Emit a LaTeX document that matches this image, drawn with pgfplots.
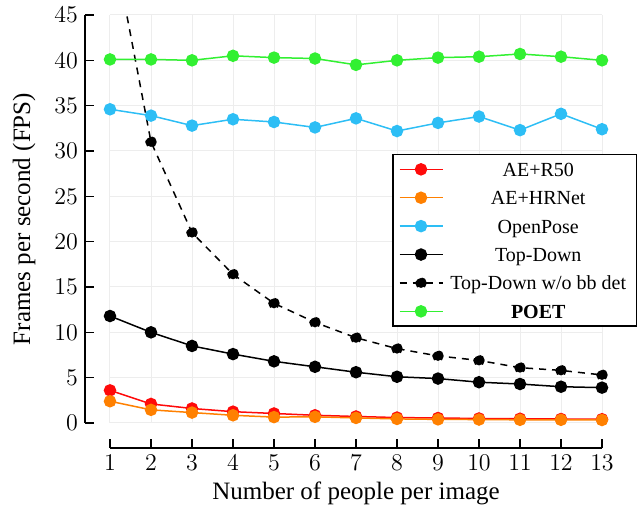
\documentclass[border=0pt]{standalone}
\usepackage{pgfplots}
\pgfplotsset{compat=1.18}
\usepackage{fontspec}
\setmainfont{Liberation Serif}
\definecolor{cR}{RGB}{255,10,10}
\definecolor{cO}{RGB}{255,128,0}
\definecolor{cB}{RGB}{45,190,245}
\definecolor{cG}{RGB}{50,240,50}
\newcommand{\lgE}[1]{\makebox[90pt][c]{\strut #1}}
\begin{document}
\begin{tikzpicture}
\path[use as bounding box] (-55pt,-44.5pt) rectangle (265.5pt,211.5pt);
\begin{axis}[
  at={(0,0)}, anchor=south west,
  scale only axis, width=246pt, height=204pt,
  xmin=1, xmax=13, ymin=0, ymax=45,
  xtick={1,...,13}, ytick={0,5,...,45},
  grid=major, grid style={draw=black!7, line width=0.5pt},
  axis x line*=bottom, axis y line*=left,
  axis x line shift=12.5pt, axis y line shift=12.5pt,
  x axis line style={line width=0.9pt},
  y axis line style={line width=0.9pt},
  xtick style={line width=0.7pt, black},
  ytick style={line width=0.7pt, black},
  major tick length=4.5pt, tick align=inside,
  tick label style={font=\fontsize{12.5}{14}\selectfont},
  label style={font=\fontsize{12.5}{14}\selectfont},
  xlabel={Number of people per image},
  ylabel={Frames per second (FPS)},
  xlabel style={at={(axis description cs:0.5,-0.1887)}, anchor=base},
  ylabel style={at={(axis description cs:-0.1626,0.5)}, anchor=base},
  legend style={at={(141pt,48pt)}, anchor=south west, draw=black, line width=0.75pt,
    font=\fontsize{10}{12}\selectfont, nodes={inner sep=1pt}, inner xsep=3pt, inner ysep=1.5pt,
    row sep=2.3pt, column sep=1.5pt, cells={anchor=center}},
  legend image code/.code={\draw[mark repeat=2,mark phase=2] plot coordinates {(0pt,0pt) (10.75pt,0pt) (21.5pt,0pt)};},
  every axis plot/.append style={line width=0.75pt, mark=*, mark size=2.75pt, mark options={solid}},
]
\addplot[cR, mark options={fill=cR}] coordinates {
(1,3.6) (2,2.1) (3,1.6) (4,1.25) (5,1.05) (6,0.85) (7,0.72) (8,0.6) (9,0.55) (10,0.5) (11,0.47) (12,0.44) (13,0.42)};
\addlegendentry{\lgE{AE+R50}}
\addplot[cO, mark options={fill=cO}] coordinates {
(1,2.4) (2,1.45) (3,1.15) (4,0.85) (5,0.65) (6,0.68) (7,0.56) (8,0.45) (9,0.4) (10,0.38) (11,0.35) (12,0.35) (13,0.33)};
\addlegendentry{\lgE{AE+HRNet}}
\addplot[cB, mark options={fill=cB}] coordinates {
(1,34.6) (2,33.9) (3,32.8) (4,33.5) (5,33.2) (6,32.6) (7,33.6) (8,32.2) (9,33.1) (10,33.8) (11,32.3) (12,34.1) (13,32.4)};
\addlegendentry{\lgE{OpenPose}}
\addplot[black, mark options={fill=black}] coordinates {
(1,11.8) (2,10.0) (3,8.5) (4,7.6) (5,6.8) (6,6.2) (7,5.6) (8,5.1) (9,4.9) (10,4.5) (11,4.3) (12,4.0) (13,3.9)};
\addlegendentry{\lgE{Top-Down}}
\addplot[black, dash pattern=on 3.5pt off 3pt, mark size=2.5pt, mark options={fill=black}] coordinates {
(1,54.7) (2,31.0) (3,21.0) (4,16.4) (5,13.2) (6,11.1) (7,9.4) (8,8.2) (9,7.4) (10,6.9) (11,6.1) (12,5.8) (13,5.3)};
\addlegendentry{\lgE{Top-Down w/o bb det}}
\addplot[cG, mark options={fill=cG}] coordinates {
(1,40.1) (2,40.1) (3,40.0) (4,40.5) (5,40.3) (6,40.2) (7,39.5) (8,40.0) (9,40.3) (10,40.4) (11,40.7) (12,40.4) (13,40.0)};
\addlegendentry{\lgE{\textbf{POET}}}
\end{axis}
\end{tikzpicture}
\end{document}
